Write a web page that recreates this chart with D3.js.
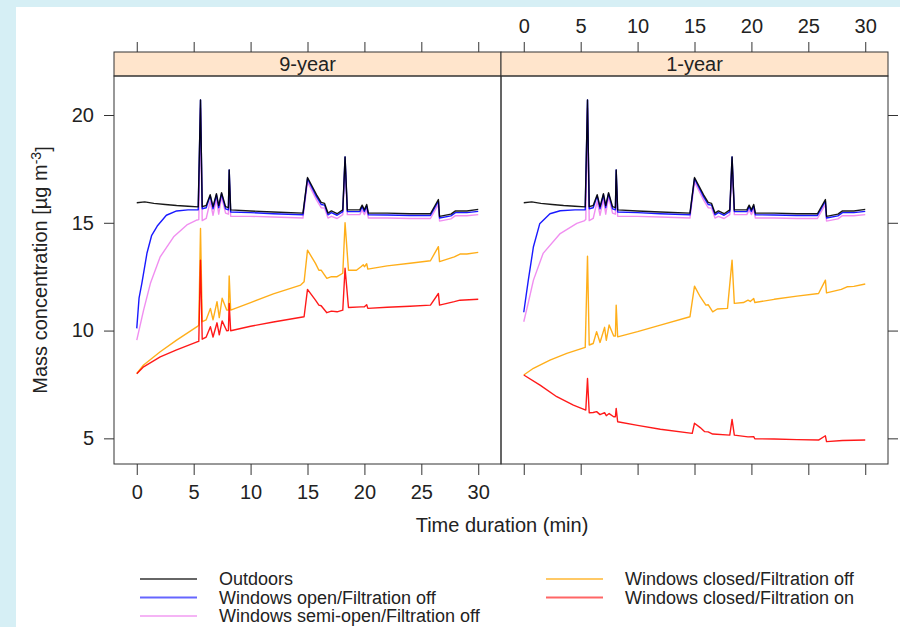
<!DOCTYPE html>
<html><head><meta charset="utf-8">
<script src="https://cdn.jsdelivr.net/npm/d3@7"></script>
<style>body{margin:0;padding:0;} svg{display:block;} text{font-family:"Liberation Sans",Arial,Helvetica,sans-serif;fill:#222;}</style>
</head><body>
<svg id="chart" width="900" height="627"></svg>
<script>
// ---------- DATA ----------
const panels = ["9-year", "1-year"];
const xTicks = [0, 5, 10, 15, 20, 25, 30];
const yTicks = [5, 10, 15, 20];
const seriesNames = ["Outdoors", "Windows open/Filtration off", "Windows semi-open/Filtration off", "Windows closed/Filtration off", "Windows closed/Filtration on"];
const seriesColors = ["#000000", "#0000ff", "#ee82ee", "#ffa500", "#ff0000"];

// Outdoors (same in both panels) [time (min), concentration]
const outdoors = [[0,15.93],[0.7,15.97],[1.5,15.9],[2.5,15.85],[3.5,15.8],[4.5,15.77],[5.4,15.74],[5.6,20.7],[5.75,15.75],[6.1,15.8],[6.45,16.3],[6.7,15.75],[7.0,16.35],[7.2,15.8],[7.45,16.4],[7.8,15.75],[8.05,15.7],[8.12,17.45],[8.25,15.6],[10,15.55],[12,15.5],[14.6,15.45],[15.0,17.1],[15.8,16.3],[16.2,15.95],[16.5,15.9],[16.8,15.45],[17.1,15.55],[17.6,15.42],[18.1,15.6],[18.3,18.06],[18.5,15.6],[19.6,15.6],[19.8,15.82],[20.0,15.6],[20.2,15.85],[20.35,15.45],[22,15.45],[24,15.42],[25.8,15.42],[26.5,16.08],[26.6,15.3],[27.6,15.4],[28.0,15.55],[29,15.55],[30,15.62]];

// Windows open / filtration off
const openStart9 = [[0,10.1],[0.2,11.5],[0.45,12.2],[0.9,13.6],[1.3,14.4],[1.8,14.85],[2.6,15.35],[3.5,15.55],[4.5,15.6]];
const openStart1 = [[0,10.85],[0.2,11.6],[0.4,12.34],[0.85,13.89],[1.4,14.95],[2.3,15.42],[3.2,15.56],[4.5,15.6]];
const openTail = [[5.4,15.6],[5.6,20.7],[5.75,15.65],[6.1,15.7],[6.45,16.25],[6.7,15.65],[7.0,16.3],[7.2,15.7],[7.45,16.35],[7.8,15.65],[8.05,15.6],[8.12,17.45],[8.25,15.5],[10,15.47],[12,15.42],[14.6,15.37],[15.0,17.05],[15.8,16.2],[16.2,15.85],[16.5,15.82],[16.8,15.37],[17.1,15.47],[17.6,15.35],[18.1,15.52],[18.3,18.06],[18.5,15.52],[19.6,15.52],[19.8,15.75],[20.0,15.52],[20.2,15.78],[20.35,15.37],[22,15.36],[24,15.34],[25.8,15.34],[26.5,16.0],[26.6,15.22],[27.6,15.32],[28.0,15.47],[29,15.47],[30,15.53]];

// Windows semi-open / filtration off
const semiStart9 = [[0,9.56],[0.6,10.95],[1.2,12.19],[2.06,13.42],[3.24,14.35],[4.4,14.9],[5.3,15.13]];
const semiStart1 = [[0,10.41],[0.4,11.3],[0.85,12.34],[1.7,13.58],[3.2,14.5],[4.66,14.97],[5.3,15.09]];
const semiTail = [[5.45,15.15],[5.6,20.3],[5.75,15.1],[6.1,15.2],[6.45,16.0],[6.7,15.35],[7.0,16.1],[7.2,15.4],[7.45,16.2],[7.8,15.45],[8.05,15.4],[8.12,17.0],[8.25,15.3],[10,15.3],[12,15.27],[14.6,15.22],[15.0,16.9],[15.8,16.05],[16.2,15.7],[16.5,15.68],[16.8,15.22],[17.1,15.3],[17.6,15.2],[18.1,15.38],[18.3,17.8],[18.5,15.38],[19.6,15.38],[19.8,15.6],[20.0,15.38],[20.2,15.62],[20.35,15.22],[22,15.22],[24,15.2],[25.8,15.2],[26.5,15.85],[26.6,15.08],[27.6,15.18],[28.0,15.33],[29,15.33],[30,15.38]];

// Windows closed / filtration off
const closedOff9 = [[0,8.01],[0.6,8.4],[2.06,9.02],[3.5,9.56],[5.3,10.18],[5.45,10.25],[5.6,14.74],[5.75,10.41],[6.1,10.5],[6.47,11.03],[6.7,10.5],[7.05,11.34],[7.25,10.6],[7.5,11.5],[7.9,10.95],[8.05,10.95],[8.12,12.53],[8.25,10.95],[10,11.3],[12,11.7],[14.4,12.11],[14.7,12.26],[15.0,13.73],[15.7,13.12],[16.0,12.8],[16.2,12.8],[16.7,12.42],[17.1,12.5],[17.6,12.5],[18.1,12.66],[18.3,15.0],[18.6,12.8],[19.3,12.8],[19.7,12.96],[19.9,13.05],[20.0,12.96],[20.2,13.1],[20.3,12.85],[22,13.0],[24,13.12],[25.8,13.24],[26.5,13.89],[26.6,13.2],[27.9,13.42],[28.4,13.55],[29,13.55],[30,13.63]];
const closedOff1 = [[0,7.94],[0.85,8.25],[2.3,8.63],[3.78,8.94],[5.4,9.22],[5.6,13.45],[5.75,9.33],[6.1,9.4],[6.4,9.95],[6.7,9.45],[7.1,10.15],[7.25,9.55],[7.5,10.26],[7.9,9.75],[8.05,9.75],[8.12,11.18],[8.25,9.71],[10,9.95],[12,10.25],[14.6,10.64],[15.0,12.06],[15.5,11.57],[16.0,11.18],[16.2,11.2],[16.6,10.87],[17.0,11.0],[17.9,11.03],[18.3,13.27],[18.5,11.26],[19.3,11.3],[19.7,11.41],[19.9,11.35],[20.2,11.49],[20.3,11.3],[22,11.45],[24,11.6],[25.9,11.72],[26.5,12.34],[26.6,11.75],[27.9,11.91],[28.4,12.03],[29,12.05],[30,12.16]];

// Windows closed / filtration on
const closedOn9 = [[0,8.0],[0.6,8.32],[2.06,8.78],[3.5,9.1],[5.3,9.48],[5.45,9.5],[5.6,13.27],[5.75,9.6],[6.1,9.7],[6.47,10.18],[6.7,9.7],[7.05,10.36],[7.25,9.8],[7.5,10.45],[7.9,9.99],[8.05,10.0],[8.12,11.26],[8.25,9.99],[10,10.2],[12,10.4],[14.7,10.64],[15.0,11.91],[15.7,11.41],[16.0,11.18],[16.2,11.15],[16.7,10.83],[17.1,10.9],[17.6,10.87],[18.1,10.95],[18.3,12.89],[18.6,11.07],[19.7,11.1],[20.0,11.1],[20.2,11.2],[20.3,11.03],[22,11.08],[24,11.13],[25.8,11.18],[26.5,11.72],[26.6,11.18],[27.9,11.34],[28.4,11.41],[30,11.45]];
const closedOn1 = [[0,7.94],[1.43,7.47],[2.9,6.93],[4.36,6.54],[5.45,6.31],[5.6,7.78],[5.75,6.19],[6.1,6.2],[6.4,6.24],[6.7,6.1],[7.1,6.19],[7.25,6.05],[7.5,6.15],[7.9,6.0],[8.05,6.0],[8.12,6.39],[8.25,5.77],[10,5.6],[12,5.42],[14.8,5.23],[15.0,5.7],[15.5,5.5],[15.9,5.31],[16.2,5.3],[16.6,5.2],[18.1,5.15],[18.3,5.88],[18.5,5.15],[19.7,5.07],[20.2,5.08],[20.3,4.98],[22,4.97],[24,4.94],[25.9,4.92],[26.5,5.12],[26.6,4.85],[28,4.9],[30,4.92]];

// ---------- BUILD ----------
const panelData = {
  "9-year": [outdoors, openStart9.concat(openTail), semiStart9.concat(semiTail), closedOff9, closedOn9],
  "1-year": [outdoors, openStart1.concat(openTail), semiStart1.concat(semiTail), closedOff1, closedOn1]
};
const drawOrder = [2, 1, 0, 3, 4];

const svg = d3.select("#chart");
svg.append("rect").attr("width", 900).attr("height", 627).attr("fill", "#d6eff5");
svg.append("rect").attr("x", 16).attr("y", 7).attr("width", 884).attr("height", 620).attr("fill", "#ffffff");

const plotTop = 76, plotBottom = 464, stripTop = 52;
const panelX = [[114, 501], [501, 888]];
const y = d3.scaleLinear().domain([3.81, 21.81]).range([plotBottom, plotTop]);
const fontSize = "20px";
const border = "#333";

panels.forEach((p, i) => {
  const x = d3.scaleLinear().domain([-2, 32]).range(panelX[i]);
  const g = svg.append("g");
  const clipId = "clip" + i;
  svg.append("clipPath").attr("id", clipId).append("rect")
    .attr("x", panelX[i][0]).attr("y", plotTop).attr("width", panelX[i][1] - panelX[i][0]).attr("height", plotBottom - plotTop);

  const line = d3.line().x(d => x(d[0])).y(d => y(d[1]));
  const lg = g.append("g").attr("clip-path", "url(#" + clipId + ")");
  drawOrder.forEach(k => {
    lg.append("path").datum(panelData[p][k]).attr("d", line)
      .attr("fill", "none").attr("stroke", seriesColors[k]).attr("stroke-width", 1.4)
      .attr("stroke-linejoin", "round").attr("stroke-opacity", 0.9);
  });

  // strip
  g.append("rect").attr("x", panelX[i][0]).attr("y", stripTop).attr("width", panelX[i][1] - panelX[i][0]).attr("height", plotTop - stripTop)
    .attr("fill", "#ffe5cc").attr("stroke", border).attr("stroke-width", 1);
  g.append("text").attr("x", (panelX[i][0] + panelX[i][1]) / 2).attr("y", (stripTop + plotTop) / 2).attr("dy", "0.36em")
    .attr("text-anchor", "middle").style("font-size", fontSize).text(p);
  // panel border
  g.append("rect").attr("x", panelX[i][0]).attr("y", plotTop).attr("width", panelX[i][1] - panelX[i][0]).attr("height", plotBottom - plotTop)
    .attr("fill", "none").attr("stroke", border).attr("stroke-width", 1);

  // bottom axis
  const bAx = d3.axisBottom(x).tickValues(xTicks).tickSize(11).tickPadding(10);
  if (i === 1) bAx.tickFormat("");
  const bg = svg.append("g").attr("transform", `translate(0,${plotBottom})`).call(bAx);
  // top axis
  const tAx = d3.axisTop(x).tickValues(xTicks).tickSize(10).tickPadding(9);
  if (i === 0) tAx.tickFormat("");
  const tg = svg.append("g").attr("transform", `translate(0,${stripTop})`).call(tAx);
  [bg, tg].forEach(a => {
    a.select(".domain").remove();
    a.selectAll(".tick line").attr("stroke", border);
    a.selectAll(".tick text").style("font-size", fontSize).attr("fill", "#222")
      .style("font-family", '"Liberation Sans",Arial,sans-serif');
  });
});

// y axes
const lAx = svg.append("g").attr("transform", `translate(114,0)`).call(d3.axisLeft(y).tickValues(yTicks).tickSize(10).tickPadding(10));
const rAx = svg.append("g").attr("transform", `translate(888,0)`).call(d3.axisRight(y).tickValues(yTicks).tickSize(10).tickFormat(""));
[lAx, rAx].forEach(a => {
  a.select(".domain").remove();
  a.selectAll(".tick line").attr("stroke", border);
  a.selectAll(".tick text").style("font-size", fontSize).attr("fill", "#222")
    .style("font-family", '"Liberation Sans",Arial,sans-serif');
});

// axis titles
svg.append("text").attr("x", 502).attr("y", 525).attr("dy", "0.36em").attr("text-anchor", "middle")
  .style("font-size", fontSize).text("Time duration (min)");
const yl = svg.append("text").attr("transform", "translate(40,270) rotate(-90)").attr("text-anchor", "middle")
  .attr("dy", "0.36em").style("font-size", fontSize);
yl.append("tspan").text("Mass concentration [µg m");
yl.append("tspan").attr("dy", "-0.45em").style("font-size", "14px").text("-3");
yl.append("tspan").attr("dy", "0.45em").text("]");

// legend
const legendCols = [[0, 1, 2], [3, 4]];
const legX = [[140, 197, 219], [546, 603, 625]];
const legY = [579, 597.5, 616];
legendCols.forEach((col, c) => {
  col.forEach((k, r) => {
    svg.append("line").attr("x1", legX[c][0]).attr("x2", legX[c][1]).attr("y1", legY[r]).attr("y2", legY[r])
      .attr("stroke", seriesColors[k]).attr("stroke-width", 2.2).attr("stroke-opacity", 0.6);
    svg.append("text").attr("x", legX[c][2]).attr("y", legY[r]).attr("dy", "0.36em")
      .style("font-size", "18px").text(seriesNames[k]);
  });
});
</script>
</body></html>
